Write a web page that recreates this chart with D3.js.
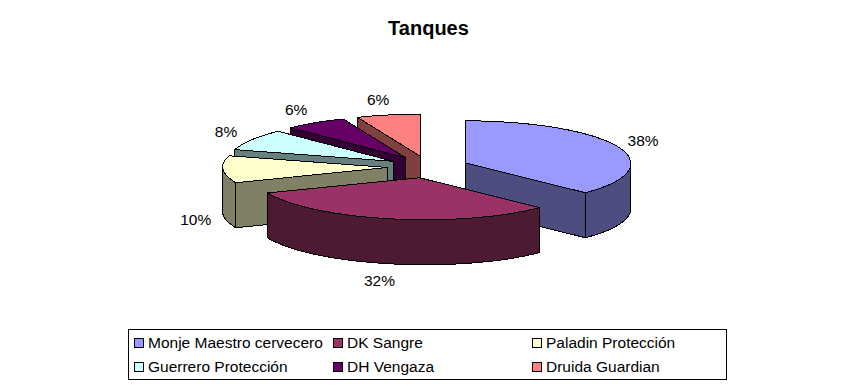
<!DOCTYPE html>
<html>
<head>
<meta charset="utf-8">
<script src="https://cdnjs.cloudflare.com/ajax/libs/d3/7.8.5/d3.min.js"></script>
<style>
html,body{margin:0;padding:0;background:#fff;}
svg{display:block;}
text{font-family:"Liberation Sans",Arial,sans-serif;fill:#000;}
</style>
</head>
<body>
<svg id="c" width="857" height="386"></svg>
<script>
const title = "Tanques";
const categories = ["Monje Maestro cervecero","DK Sangre","Paladin Protección","Guerrero Protección","DH Vengaza","Druida Guardian"];
const values = [37.6,31.5,10.4,8.2,6.1,6.2];
const topColors = ["#9999FF","#993366","#FFFFCC","#CCFFFF","#660066","#FF8080"];
const wallColors = ["#4D4D80","#4D1A33","#808066","#668080","#330033","#804040"];
const paintOrder = [5,4,3,2,0,1];

const svg = d3.select("#c");
const cx = 428, cy = 167, rx = 165, ry = 42, depth = 45;
const explodeX = 40.5, explodeY = 11;
const frontShear = 0.13;          // the view is slightly skewed: near points lean right
const labelRx = 192, labelRy = 58, labelBackLean = 5, labelFrontDrop = 4;

const arcs = d3.pie().sort(null).startAngle(0).endAngle(2*Math.PI)(values);
const sx = d3.scaleLinear().domain([-1,1]).range([-rx,rx]);
const sy = d3.scaleLinear().domain([-1,1]).range([-ry,ry]);
const line = d3.line().x(d=>d[0]).y(d=>d[1]);

function centre(a){
  const m=(a.startAngle+a.endAngle)/2;
  return [cx+explodeX*Math.sin(m), cy-explodeY*Math.cos(m)];
}
function rim(c,t,dz=0){
  const dy=-sy(Math.cos(t));
  return [c[0]+sx(Math.sin(t))+Math.max(0,dy)*frontShear, c[1]+dy+dz];
}
function arcPts(c,t0,t1,dz=0){
  const n=Math.max(2,Math.ceil((t1-t0)/0.02));
  return d3.range(n+1).map(i=>rim(c,t0+(t1-t0)*i/n,dz));
}
const g = svg.append("g").attr("shape-rendering","crispEdges").attr("stroke","#000").attr("stroke-width",1).attr("stroke-linejoin","miter");

paintOrder.forEach(i=>{
  const a=arcs[i], c=centre(a), s=g.append("g");
  const radial=(t,col)=>{
    const p=rim(c,t);
    s.append("path").attr("fill",col).attr("d",line([c,p,[p[0],p[1]+depth],[c[0],c[1]+depth]])+"Z");
  };
  if(Math.sin(a.startAngle)<-1e-6) radial(a.startAngle,wallColors[i]);
  if(Math.sin(a.endAngle)>1e-6) radial(a.endAngle,wallColors[i]);
  const f0=Math.max(a.startAngle,Math.PI/2), f1=Math.min(a.endAngle,1.5*Math.PI);
  if(f1>f0){
    s.append("path").attr("fill",wallColors[i])
      .attr("d",line(arcPts(c,f0,f1).concat(arcPts(c,f0,f1,depth).reverse()))+"Z");
  }
  s.append("path").attr("fill",topColors[i])
    .attr("d",line([c].concat(arcPts(c,a.startAngle,a.endAngle)))+"Z");
});

// data labels
arcs.forEach((a,i)=>{
  const m=(a.startAngle+a.endAngle)/2, c=centre(a);
  const sm=Math.sin(m), cm=Math.cos(m);
  const lx=c[0]+labelRx*sm-(sm<0&&cm>0?labelBackLean*cm:0);
  const ly=c[1]-labelRy*cm+(cm<0?depth+labelFrontDrop*Math.abs(sm):0);
  svg.append("text").attr("x",lx).attr("y",ly).attr("text-anchor","middle")
    .attr("dominant-baseline","central").attr("font-size",15.5)
    .text(Math.round(values[i])+"%");
});

svg.append("text").attr("x",428.5).attr("y",35).attr("text-anchor","middle")
  .attr("font-size",20).attr("font-weight","bold").text(title);

// legend
const legend={x:128,y:329,w:598,h:50,cols:[134,333,532],rows:[338,362],sw:9,gap:14,base:10};
svg.append("rect").attr("x",legend.x+.5).attr("y",legend.y+.5).attr("width",legend.w).attr("height",legend.h)
  .attr("fill","#fff").attr("stroke","#000").attr("shape-rendering","crispEdges");
categories.forEach((name,i)=>{
  const x=legend.cols[i%3], y=legend.rows[Math.floor(i/3)];
  svg.append("rect").attr("x",x+.5).attr("y",y+.5).attr("width",legend.sw).attr("height",legend.sw)
    .attr("fill",topColors[i]).attr("stroke","#000").attr("shape-rendering","crispEdges");
  svg.append("text").attr("x",x+legend.gap).attr("y",y+legend.base).attr("font-size",15.5).text(name);
});
</script>
</body>
</html>
